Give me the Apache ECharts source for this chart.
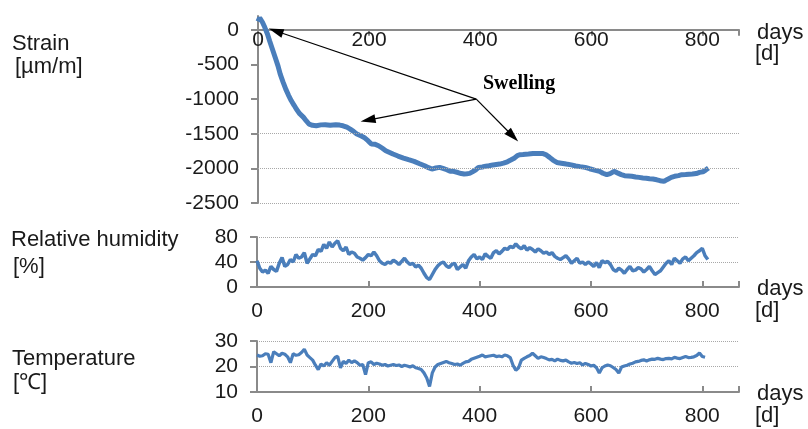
<!DOCTYPE html>
<html>
<head>
<meta charset="utf-8">
<script src="https://cdn.jsdelivr.net/npm/echarts@6/dist/echarts.min.js"></script>
<style>
  html, body { margin: 0; padding: 0; background: #fff; }
  #main { width: 808px; height: 429px; }
</style>
</head>
<body>
<div id="main"></div>
<script>
// x axis
var dayMax = 866;
var dayTicks = [0, 200, 400, 600, 800];

// strain [um/m]
var strainDays = [0, 3, 8, 12, 17, 21, 26, 31, 36, 40, 45, 50, 55, 60, 65, 69, 75, 82, 87, 92, 98, 105, 113, 121, 130, 140, 147, 153, 160, 166, 172, 178, 185, 191, 198, 204, 210, 217, 224, 230, 237, 243, 252, 262, 271, 281, 290, 300, 307, 313, 320, 327, 333, 340, 346, 352, 360, 366, 371, 376, 381, 386, 392, 397, 404, 410, 416, 423, 429, 435, 442, 449, 455, 462, 467, 471, 477, 487, 495, 504, 512, 518, 525, 531, 538, 546, 555, 564, 572, 580, 589, 597, 606, 615, 621, 628, 634, 641, 647, 654, 660, 667, 673, 680, 686, 693, 699, 705, 711, 718, 724, 731, 737, 744, 750, 757, 763, 770, 776, 782, 789, 795, 801, 806, 811];
var strainVals = [120, 175, 110, 40, -60, -160, -280, -400, -520, -640, -750, -856, -945, -1024, -1090, -1144, -1210, -1264, -1315, -1361, -1378, -1385, -1372, -1370, -1378, -1370, -1375, -1385, -1405, -1433, -1465, -1505, -1530, -1553, -1600, -1649, -1650, -1673, -1710, -1745, -1770, -1793, -1822, -1851, -1875, -1899, -1930, -1962, -1990, -2010, -1995, -1986, -2000, -2020, -2043, -2043, -2060, -2075, -2082, -2078, -2072, -2050, -2020, -1986, -1980, -1968, -1962, -1950, -1944, -1938, -1925, -1905, -1880, -1850, -1815, -1803, -1800, -1793, -1786, -1786, -1784, -1800, -1841, -1880, -1914, -1925, -1938, -1950, -1965, -1975, -1986, -2005, -2025, -2043, -2070, -2091, -2075, -2043, -2065, -2090, -2106, -2110, -2115, -2125, -2130, -2138, -2142, -2150, -2154, -2165, -2178, -2188, -2160, -2130, -2115, -2105, -2091, -2090, -2085, -2082, -2075, -2058, -2050, -2025, -1995];
var strainTicks = [0, -500, -1000, -1500, -2000, -2500];

// relative humidity [%], every 5 days
var rhVals = [42, 30, 24, 27, 22, 33, 28, 25, 38, 47, 33, 36, 44, 40, 52, 46, 48, 55, 38, 45,
  52, 50, 60, 57, 68, 62, 72, 64, 70, 74, 62, 58, 64, 52, 56, 54, 48, 46, 43, 47,
  52, 50, 56, 50, 42, 38, 36, 40, 38, 43, 40, 36, 41, 46, 40, 36, 38, 32, 35, 30,
  22, 15, 12, 20, 28, 34, 38, 40, 34, 31, 36, 38, 28, 32, 36, 30, 42, 48, 52, 45,
  48, 44, 53, 49, 46, 55, 58, 53, 57, 62, 60, 65, 63, 69, 64, 61, 66, 59, 63, 60,
  56, 61, 58, 54, 56, 52, 55, 49, 46, 44, 47, 50, 45, 38, 42, 46, 38, 40, 36, 40,
  37, 33, 39, 31, 42, 39, 41, 36, 28, 25, 30, 27, 22, 28, 33, 26, 27, 31, 29, 24,
  28, 33, 26, 20, 23, 26, 32, 38, 42, 36, 46, 42, 38, 45, 48, 42, 46, 50, 55, 58,
  62, 50, 44];
var rhTicks = [0, 40, 80];

// temperature [C], every 5 days
var tempVals = [24.5, 24, 24.2, 25, 24.8, 21.5, 25.8, 25, 24.2, 25.2, 24.8, 23.8, 21.5, 25, 24.4, 24.6, 25.5, 26.8, 24.5, 23.5,
  22.5, 20.5, 18.8, 21, 20.2, 21.5, 20.5, 22, 23.5, 24, 19.5, 22, 21.2, 22.5, 21.5, 22.2, 21.5, 20.5, 20.8, 16.8,
  21.5, 21.8, 20.8, 21.3, 21, 20.5, 20.8, 20.2, 20.5, 20.8, 20.4, 20.6, 20, 20.5, 20.2, 19.8, 20.3, 19.5, 19.2, 18.8,
  17.5, 15.5, 12.2, 17.5, 19.8, 20.8, 21.2, 21.6, 22, 21.5, 21.2, 20.8, 21, 20.5, 21.2, 21.8, 22, 22.8, 23.2, 23.6,
  24, 24.5, 23.8, 24, 24.2, 24.4, 23.9, 24.1, 23.8, 24.5, 24.2, 23.5, 20.5, 18.5, 19.5, 22.5, 23.2, 23.8, 24.3, 25.2,
  24.2, 23.2, 23.8, 23.5, 23.1, 22.6, 22.8, 22.2, 22.9, 22.4, 22.2, 22.5, 21.8, 21.3, 21.6, 21.2, 21.5, 20.6, 21.2, 20.8,
  20.2, 20.5, 19.5, 17.4, 19.5, 20.2, 20.6, 20.3, 19.6, 18.8, 17.4, 19.8, 20.2, 20.5, 21, 21.3, 21.8, 22, 22.4, 22.6,
  22.2, 22.6, 22.9, 22.8, 23.2, 22.9, 22.7, 23.1, 23.2, 23, 23.6, 23.3, 23.1, 23.5, 23.9, 23.5, 23.6, 23.8, 24.3, 25.3,
  23.9, 23.6];
var tempTicks = [10, 20, 30];

var blue = '#4A7EBB';
var axisGray = '#8a8a8a';
var gridGray = '#a8a8a8';
var txt = '#1a1a1a';
var sans = 'Liberation Sans';

function pairs(days, vals) {
    var out = [];
    for (var i = 0; i < vals.length; i++) out.push([days[i], vals[i]]);
    return out;
}
function stepDays(n, step) {
    var out = [];
    for (var i = 0; i < n; i++) out.push(i * step);
    return out;
}
function plain(v) { return String(v); }

function xAxisFor(grid, top) {
    return {
        type: 'value', gridIndex: grid, min: 0, max: dayMax,
        position: top ? 'top' : 'bottom',
        axisLine: { show: true, onZero: top, lineStyle: { color: axisGray, width: 2 } },
        axisTick: { show: true, inside: true, length: 6, customValues: dayTicks.concat([dayMax]), lineStyle: { color: axisGray, width: 2 } },
        axisLabel: { inside: top, margin: 14, customValues: dayTicks, formatter: plain, color: txt, fontSize: 21, fontFamily: sans },
        splitLine: { show: false }
    };
}
function yAxisFor(grid, min, max, ticks, split) {
    return {
        type: 'value', gridIndex: grid, min: min, max: max,
        axisLine: { show: true, lineStyle: { color: axisGray, width: 2 } },
        axisTick: { show: true, length: 7, customValues: ticks, lineStyle: { color: axisGray, width: 2 } },
        axisLabel: { margin: 19, customValues: ticks, formatter: plain, color: txt, fontSize: 21, fontFamily: sans },
        splitLine: { show: split, lineStyle: { color: gridGray, type: 'dotted', width: 1 } }
    };
}

function gridLine(v) {
    return [{ xAxis: 0, yAxis: v, symbol: 'none', lineStyle: { color: gridGray, type: 'dotted', width: 1 } },
            { xAxis: dayMax, yAxis: v, symbol: 'none' }];
}
function arrow(from, to) {
    return [{ coord: from, symbol: 'none', lineStyle: { color: '#000', type: 'solid', width: 1.2 } },
            { coord: to, symbol: 'triangle', symbolSize: [9, 15] }];
}
function txtEl(text, x, y) {
    return { type: 'text', x: x, y: y, style: { text: text, fill: txt, font: '22px "Liberation Sans"', verticalAlign: 'middle' } };
}

var myChart = echarts.init(document.getElementById('main'));
var option = {
    animation: false,
    backgroundColor: '#fff',
    grid: [
        { left: 258, top: 16, width: 481, height: 187 },
        { left: 257, top: 237, width: 482, height: 50 },
        { left: 257, top: 341, width: 482, height: 51 }
    ],
    xAxis: [xAxisFor(0, true), xAxisFor(1, false), xAxisFor(2, false)],
    yAxis: [
        yAxisFor(0, -2500, 200, strainTicks, false),
        yAxisFor(1, 0, 80, rhTicks, true),
        yAxisFor(2, 10, 30, tempTicks, true)
    ],
    graphic: [
        txtEl('Strain', 12, 44),
        txtEl('[µm/m]', 15, 67),
        txtEl('Relative humidity', 11, 240),
        txtEl('[%]', 13, 267),
        txtEl('Temperature', 12, 359),
        txtEl('[℃]', 13, 383),
        txtEl('days', 757, 33),
        txtEl('[d]', 755, 54),
        txtEl('days', 757, 289),
        txtEl('[d]', 755, 311),
        txtEl('days', 757, 394),
        txtEl('[d]', 755, 416)
    ],
    series: [
        {
            name: 'Strain', type: 'line', xAxisIndex: 0, yAxisIndex: 0,
            data: pairs(strainDays, strainVals),
            showSymbol: false, lineStyle: { color: blue, width: 5 }, itemStyle: { color: blue },
            z: 3,
            markLine: {
                silent: true, animation: false,
                label: { show: false },
                emphasis: { disabled: true },
                symbol: ['none', 'none'],
                data: [
                    gridLine(-1500), gridLine(-2000), gridLine(-2500),
                    arrow([393, -1000], [32, -17]),
                    arrow([393, -1000], [198, -1303]),
                    arrow([393, -1000], [459, -1536])
                ]
            },
            markPoint: {
                silent: true, symbolSize: 0,
                label: { show: true, position: 'inside', formatter: 'Swelling', color: '#000', fontSize: 20, fontWeight: 'bold', fontFamily: 'Liberation Serif' },
                data: [{ coord: [470, -780] }]
            }
        },
        {
            name: 'Relative humidity', type: 'line', xAxisIndex: 1, yAxisIndex: 1,
            data: pairs(stepDays(rhVals.length, 5), rhVals),
            showSymbol: false, lineStyle: { color: blue, width: 3.5 }, itemStyle: { color: blue }
        },
        {
            name: 'Temperature', type: 'line', xAxisIndex: 2, yAxisIndex: 2,
            data: pairs(stepDays(tempVals.length, 5), tempVals),
            showSymbol: false, lineStyle: { color: blue, width: 3.2 }, itemStyle: { color: blue }
        }
    ]
};
myChart.setOption(option);
</script>
</body>
</html>
